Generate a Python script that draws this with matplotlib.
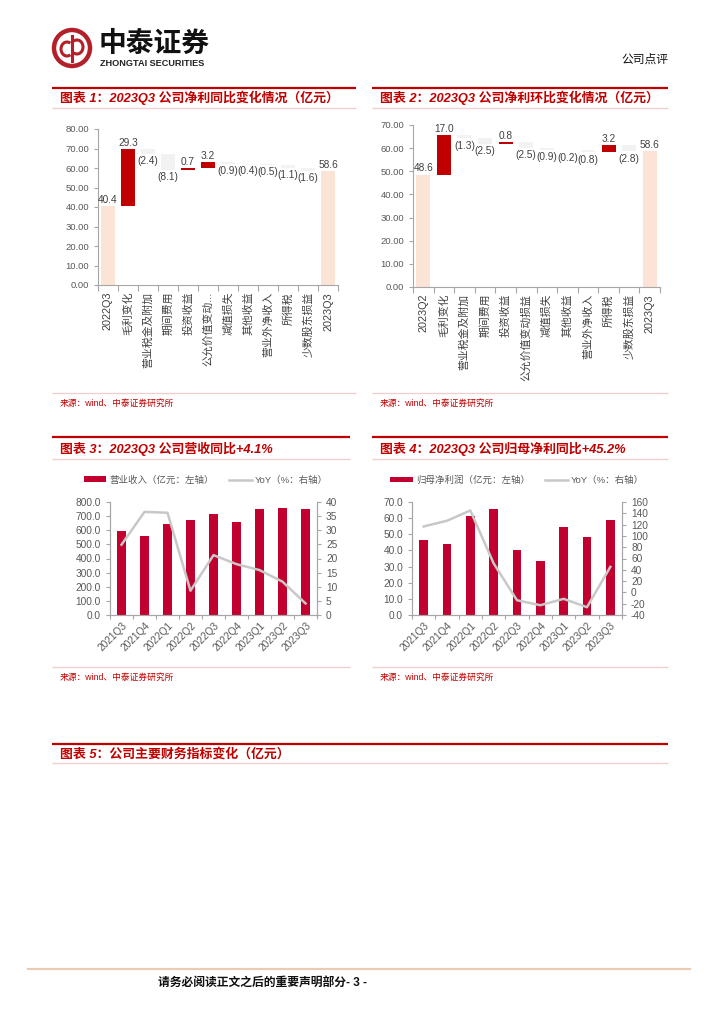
import matplotlib
matplotlib.use("Agg")
import matplotlib.pyplot as plt
from matplotlib.patches import Circle, Arc
from matplotlib.ticker import FixedLocator, FormatStrFormatter
import numpy as np

plt.rcParams['font.family'] = ['Liberation Sans', 'Noto Sans CJK SC']

W, H = 724, 1024

# 图表1 数据
yoy_cats = ['2022Q3', '毛利变化', '营业税金及附加', '期间费用', '投资收益', '公允价值变动...',
            '减值损失', '其他收益', '营业外净收入', '所得税', '少数股东损益', '2023Q3']
yoy_vals = [40.4, 29.3, -2.4, -8.1, 0.7, 3.2, -0.9, -0.4, -0.5, -1.1, -1.6, 58.6]

# 图表2 数据
qoq_cats = ['2023Q2', '毛利变化', '营业税金及附加', '期间费用', '投资收益', '公允价值变动损益',
            '减值损失', '其他收益', '营业外净收入', '所得税', '少数股东损益', '2023Q3']
qoq_vals = [48.6, 17.0, -1.3, -2.5, 0.8, -2.5, -0.9, -0.2, -0.8, 3.2, -2.8, 58.6]

# 图表3/4 数据
quarters = ['2021Q3', '2021Q4', '2022Q1', '2022Q2', '2022Q3', '2022Q4', '2023Q1', '2023Q2', '2023Q3']
revenue = [593, 560, 646, 674, 714, 660, 749, 754, 747]
revenue_yoy = [24.9, 36.5, 36.2, 8.6, 21.2, 18.0, 15.9, 11.8, 4.1]
profit = [46.7, 43.8, 61.4, 65.4, 40.4, 33.6, 54.6, 48.6, 58.6]
profit_yoy = [116.7, 126.8, 145.0, 51.4, -13.9, -22.7, -11.4, -26.2, 45.2]

RED = '#C00000'
BAR_RED = '#C1002F'
PEACH = '#FBE3D6'
GREY = '#F2F2F2'
PINK = '#F4CCCC'
TXT = '#404040'
AX = '#A6A6A6'


def box(x0, y0, x1, y1):
    return [x0 / W, 1 - y1 / H, (x1 - x0) / W, (y1 - y0) / H]


fig = plt.figure(figsize=(7.24, 10.24), dpi=100)

page = fig.add_axes([0, 0, 1, 1])
page.set_xlim(0, W)
page.set_ylim(H, 0)
page.axis('off')
page.patch.set_alpha(0)

# logo
page.add_patch(Circle((72, 48), 18, fill=False, ec='#B3202A', lw=3.2))
page.add_patch(Arc((67, 49), 12, 14, theta1=60, theta2=300, ec='#B3202A', lw=2.2))
page.add_patch(Arc((77, 47), 12, 14, theta1=-120, theta2=120, ec='#B3202A', lw=2.2))
page.plot([72, 72], [36, 61], color='#B3202A', lw=2.2)
page.text(99, 45, '中泰证券', fontsize=20, fontweight='bold', color='#111111', va='center', ha='left')
page.text(100, 63, 'ZHONGTAI SECURITIES', fontsize=6.6, fontweight='bold', color='#222222', va='center', ha='left')
page.text(668, 60, '公司点评', fontsize=8.5, color='#111111', va='center', ha='right')


def section(x0, x1, y_top, y_txt, y_bot, title):
    page.plot([x0, x1], [y_top, y_top], color=RED, lw=1.6, solid_capstyle='butt')
    page.plot([x0, x1], [y_bot, y_bot], color=PINK, lw=0.9, solid_capstyle='butt')
    page.text(x0 + 8, y_txt, title, fontsize=9.3, fontweight='bold', fontstyle='italic',
              color=RED, va='center', ha='left')


def source(x0, x1, y):
    page.plot([x0, x1], [y, y], color=PINK, lw=0.9, solid_capstyle='butt')
    page.text(x0 + 8, y + 10, '来源：wind、中泰证券研究所', fontsize=6.3, color=RED, va='center', ha='left')


section(52, 356, 88, 98, 108, '图表 1：2023Q3 公司净利同比变化情况（亿元）')
section(372, 668, 88, 98, 108, '图表 2：2023Q3 公司净利环比变化情况（亿元）')
source(52, 356, 393)
source(372, 668, 393)
section(52, 350, 437, 449, 459, '图表 3：2023Q3 公司营收同比+4.1%')
section(372, 668, 437, 449, 459, '图表 4：2023Q3 公司归母净利同比+45.2%')
source(52, 350, 667)
source(372, 668, 667)
section(52, 668, 744, 754, 763, '图表 5：公司主要财务指标变化（亿元）')

page.plot([28, 690], [969, 969], color='#EACBB3', lw=1.6)
page.text(262, 984, '请务必阅读正文之后的重要声明部分- 3 -', fontsize=8.5, fontweight='bold',
          color='#111111', va='center', ha='center')


def style_axis(ax):
    for s in ['top', 'right']:
        ax.spines[s].set_visible(False)
    for s in ['left', 'bottom']:
        ax.spines[s].set_color(AX)
        ax.spines[s].set_linewidth(0.8)
    ax.tick_params(axis='y', colors=AX, labelcolor='#595959', labelsize=6.8, length=3, width=0.8)


def waterfall(ax, cats, vals, ymax):
    n = len(vals)
    x = np.arange(n)
    bottoms, heights, colors = [], [], []
    level = 0
    for i, v in enumerate(vals):
        if i == 0 or i == n - 1:
            bottoms.append(0)
            heights.append(v)
            colors.append(PEACH)
            level = v
        elif v >= 0:
            bottoms.append(level)
            heights.append(v)
            colors.append(RED)
            level += v
        else:
            bottoms.append(level + v)
            heights.append(-v)
            colors.append(GREY)
            level += v
    ax.bar(x, heights, bottom=bottoms, width=0.68, color=colors)
    for i, v in enumerate(vals):
        top = bottoms[i] + heights[i]
        if i in (0, n - 1) or v >= 0:
            ax.text(x[i], top + 0.6, f'{v:.1f}', ha='center', va='bottom', fontsize=7.3, color=TXT)
        else:
            ax.text(x[i], bottoms[i] - 1.0, f'({-v:.1f})', ha='center', va='top', fontsize=7.3, color=TXT)
    ax.set_xlim(-0.5, n - 0.5)
    ax.set_ylim(0, ymax)
    ax.set_yticks(np.arange(0, ymax + 1, 10))
    ax.yaxis.set_major_formatter(FormatStrFormatter('%.2f'))
    ax.set_xticks(x)
    ax.set_xticklabels(cats, rotation=90, fontsize=7.8, color=TXT)
    ax.xaxis.set_minor_locator(FixedLocator(np.arange(-0.5, n, 1)))
    ax.tick_params(axis='x', which='major', length=0, pad=5)
    ax.tick_params(axis='x', which='minor', length=4, color=AX, width=0.8)
    style_axis(ax)


ax1 = fig.add_axes(box(98, 129, 338, 285))
waterfall(ax1, yoy_cats, yoy_vals, 80)
ax2 = fig.add_axes(box(413, 125, 660, 287))
waterfall(ax2, qoq_cats, qoq_vals, 70)


def combo(ax, bars, line, ymax, ystep, rlim, rstep, bar_label, legend_cx):
    x = np.arange(len(quarters))
    b = ax.bar(x, bars, width=0.36, color=BAR_RED)
    axr = ax.twinx()
    ln, = axr.plot(x, line, color='#C8C8C8', lw=1.8)
    ax.set_xlim(-0.5, len(quarters) - 0.5)
    ax.set_ylim(0, ymax)
    ax.set_yticks(np.arange(0, ymax + 0.01, ystep))
    ax.yaxis.set_major_formatter(FormatStrFormatter('%.1f'))
    axr.set_ylim(*rlim)
    axr.set_yticks(np.arange(rlim[0], rlim[1] + 0.01, rstep))
    axr.yaxis.set_major_formatter(FormatStrFormatter('%d'))
    ax.set_xticks(x)
    ax.set_xticklabels(quarters, rotation=45, ha='right', rotation_mode='anchor', fontsize=7.3, color='#595959')
    ax.xaxis.set_minor_locator(FixedLocator(np.arange(-0.5, len(quarters), 1)))
    ax.tick_params(axis='x', which='major', length=0, pad=4)
    ax.tick_params(axis='x', which='minor', length=3, color=AX, width=0.8)
    for a in (ax, axr):
        a.spines['top'].set_visible(False)
        for s in ['left', 'right', 'bottom']:
            a.spines[s].set_color(AX)
            a.spines[s].set_linewidth(0.8)
        a.tick_params(axis='y', colors=AX, labelcolor='#595959', labelsize=7.3, length=3, width=0.8)
    ax.legend([b, ln], [bar_label, 'YoY（%：右轴）'], loc='center',
              bbox_to_anchor=(legend_cx / W, 1 - 480 / H), bbox_transform=fig.transFigure,
              ncol=2, frameon=False, fontsize=6.8, handlelength=2.4, handleheight=0.55,
              columnspacing=1.6, handletextpad=0.35, labelcolor='#595959')


ax3 = fig.add_axes(box(110, 502, 317, 615))
combo(ax3, revenue, revenue_yoy, 800, 100, (0, 40), 5, '营业收入（亿元：左轴）', 206)
ax4 = fig.add_axes(box(412, 502, 622, 615))
combo(ax4, profit, profit_yoy, 70, 10, (-40, 160), 20, '归母净利润（亿元：左轴）', 517)

fig.savefig('out.png', dpi=100)
